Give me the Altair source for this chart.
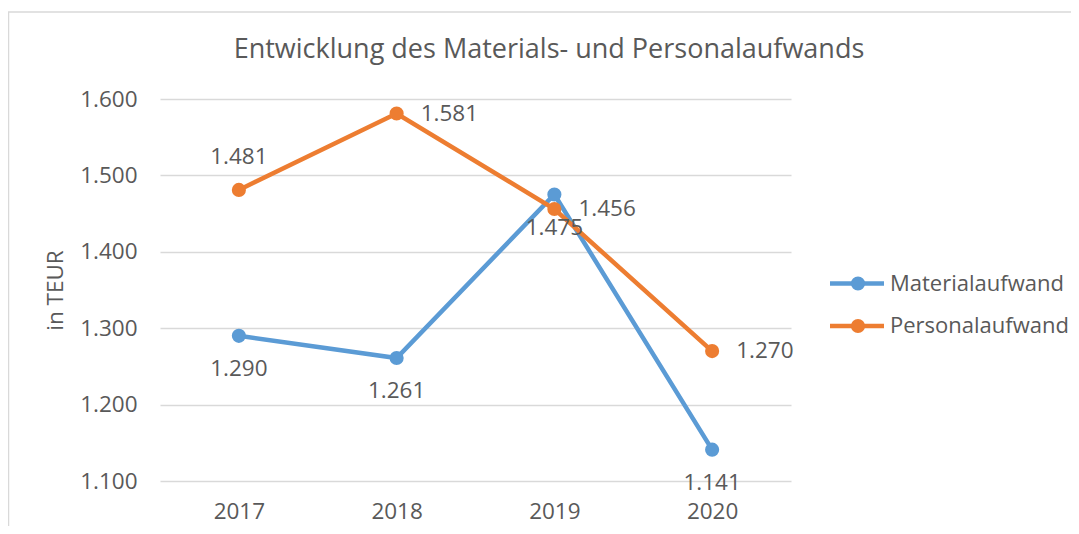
import altair as alt
import pandas as pd

# ---- data ----
years = ["2017", "2018", "2019", "2020"]
series_names = ["Materialaufwand", "Personalaufwand"]
material = [1290, 1261, 1475, 1141]
personal = [1481, 1581, 1456, 1270]
material_label_side = ["below", "below", "below", "below"]
personal_label_side = ["above", "right", "right", "right"]
y_ticks = [1100, 1200, 1300, 1400, 1500, 1600]
colors = ["#5B9BD5", "#ED7D31"]
title_text = "Entwicklung des Materials- und Personalaufwands"
y_title = "in TEUR"

FONT = "Open Sans"
TXT = "#595959"
GRID = "#d9d9d9"
FS = 22.5

rows = []
for name, vals, sides in [(series_names[0], material, material_label_side),
                          (series_names[1], personal, personal_label_side)]:
    for yr, v, sd in zip(years, vals, sides):
        rows.append({"year": yr, "series": name, "value": v, "side": sd})
df = pd.DataFrame(rows)
legend_df = pd.DataFrame({"series": series_names})
title_df = pd.DataFrame({"title": [title_text]})

W, H = 631, 382

x_enc = alt.X(
    "year:O",
    scale=alt.Scale(type="point", padding=0.5),
    axis=alt.Axis(title=None, labelFont=FONT, labelFontSize=FS, labelColor=TXT,
                  labelPadding=19, ticks=False, tickSize=0, domain=False,
                  grid=False, labelAngle=0),
)
y_enc = alt.Y(
    "value:Q",
    scale=alt.Scale(domain=[1100, 1600], nice=False, zero=False),
    axis=alt.Axis(values=y_ticks, title=y_title,
                  labelExpr="replace(format(datum.value, ','), ',', '.')",
                  labelFont=FONT, labelFontSize=FS, labelColor=TXT, labelPadding=23,
                  labelBaseline="middle",
                  ticks=False, tickSize=0, domain=False, grid=True,
                  gridColor=GRID, gridWidth=1.5,
                  titleFont=FONT, titleFontSize=FS, titleColor=TXT,
                  titleFontWeight="normal", titleX=-98, titleY=H / 2,
                  titleBaseline="alphabetic", titleAlign="center"),
)
color_enc = alt.Color("series:N", scale=alt.Scale(domain=series_names, range=colors),
                      legend=None)

base = alt.Chart(df)
layers = []

# frame around whole chart
layers.append(
    alt.Chart(title_df).mark_rect(fillOpacity=0, stroke=GRID, strokeWidth=1.5).encode(
        x=alt.value(-151.5), x2=alt.value(1000), y=alt.value(-87), y2=alt.value(1000)
    )
)
# chart title
layers.append(
    alt.Chart(title_df).mark_text(font=FONT, fontSize=27, color=TXT, align="center",
                                  baseline="alphabetic").encode(
        x=alt.value(389), y=alt.value(-41), text="title:N")
)

for name in series_names:
    sub = base.transform_filter(alt.datum.series == name)
    layers.append(sub.mark_line(strokeWidth=4.5).encode(x=x_enc, y=y_enc, color=color_enc))
    layers.append(sub.mark_point(filled=True, size=200, opacity=1).encode(
        x=x_enc, y=y_enc, color=color_enc))

lab = base.transform_calculate(label="replace(format(datum.value, ','), ',', '.')")
text_style = dict(font=FONT, fontSize=FS, color=TXT, baseline="middle")
layers.append(lab.transform_filter(alt.datum.side == "below").mark_text(
    align="center", dy=33, **text_style).encode(x=x_enc, y=y_enc, text="label:N"))
layers.append(lab.transform_filter(alt.datum.side == "above").mark_text(
    align="center", dy=-33, **text_style).encode(x=x_enc, y=y_enc, text="label:N"))
layers.append(lab.transform_filter(alt.datum.side == "right").mark_text(
    align="left", dx=24, **text_style).encode(x=x_enc, y=y_enc, text="label:N"))

# custom legend
for i, name in enumerate(series_names):
    ly = 184.5 + i * 42.5
    leg = alt.Chart(legend_df).transform_filter(alt.datum.series == name)
    layers.append(leg.mark_rule(strokeWidth=4.5).encode(
        x=alt.value(670), x2=alt.value(724), y=alt.value(ly), color=color_enc))
    layers.append(leg.mark_point(filled=True, size=200, opacity=1).encode(
        x=alt.value(698), y=alt.value(ly), color=color_enc))
    layers.append(leg.mark_text(align="left", baseline="middle", font=FONT,
                                fontSize=22, color=TXT).encode(
        x=alt.value(730), y=alt.value(ly), text="series:N"))

chart = alt.layer(*layers).properties(
    width=W, height=H,
    autosize=alt.AutoSizeParams(type="none"),
    padding={"left": 152, "top": 91, "right": 280, "bottom": 45},
).configure(background="white").configure_view(stroke=None)

chart.save("out.html", embed_options={"renderer": "svg", "actions": False})
